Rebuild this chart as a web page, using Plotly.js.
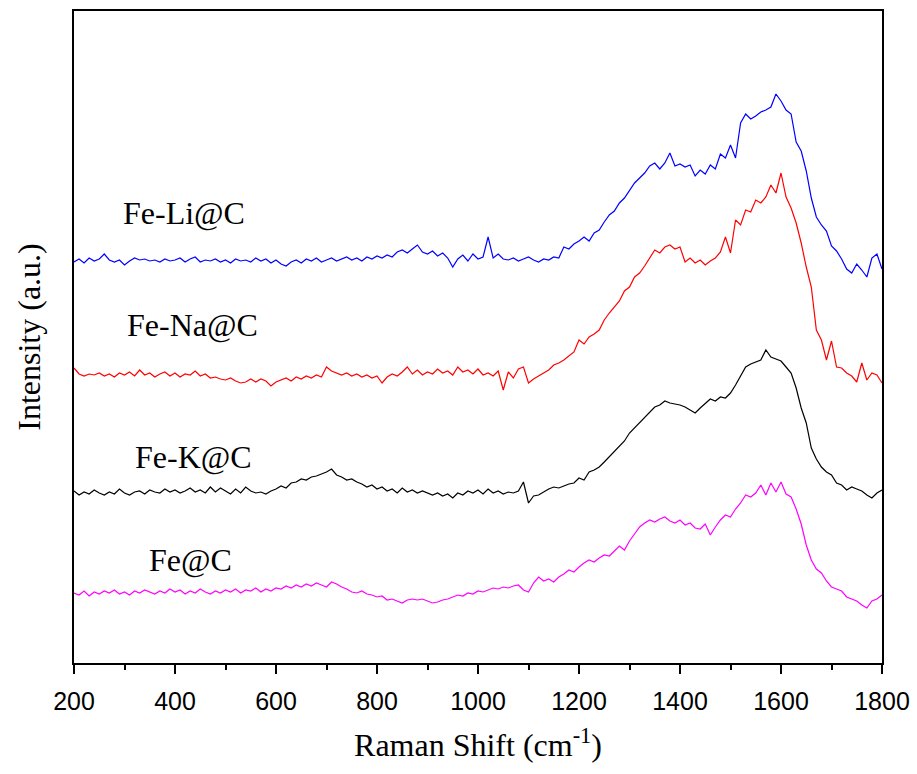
<!DOCTYPE html>
<html>
<head>
<meta charset="utf-8">
<script src="https://cdn.plot.ly/plotly-3.0.1.min.js"></script>
<style>body{margin:0;padding:0;background:#fff;}#chart{width:917px;height:774px;}</style>
</head>
<body>
<div id="chart"></div>
<script>
// Raman shift (cm^-1), 200..1800 step 10
const shiftStart = 200, shiftStep = 10;
const seriesNames = ["Fe-Li@C", "Fe-Na@C", "Fe-K@C", "Fe@C"];
const seriesColors = ["#0000ff", "#ff0000", "#000000", "#ff00ff"];
const tickVals = [200, 400, 600, 800, 1000, 1200, 1400, 1600, 1800];

// Intensities (a.u., stacked offsets as in the figure)
const feLi = [401,404,400,405,402,404,409,403,401,403,398,402,405,403,404,402,403,401,404,402,
403,405,401,404,406,401,403,402,404,401,403,400,404,402,403,401,405,402,404,400,
403,399,397,401,403,400,404,402,405,401,403,405,402,404,406,403,405,402,406,404,
407,405,408,406,411,413,410,414,418,411,409,412,407,410,405,396,404,408,402,409,
404,406,426,405,409,404,403,405,402,404,406,403,401,404,403,406,405,416,414,419,
422,426,422,430,433,441,448,452,460,465,472,480,485,490,497,500,494,500,510,497,
499,496,498,487,493,489,498,494,509,505,518,505,540,549,544,547,551,553,556,569,
562,553,549,521,512,492,465,446,438,432,417,412,404,394,390,399,393,386,405,409,394];
const feNa = [295,289,287,289,288,290,287,289,286,290,288,291,287,293,288,290,286,289,291,287,
290,286,289,288,292,287,289,285,286,284,283,285,282,280,281,284,281,284,282,277,
281,283,285,282,286,284,287,285,288,286,296,292,290,288,290,287,289,286,288,285,
287,280,286,289,287,291,296,289,293,288,291,289,294,290,292,288,296,291,293,289,
294,288,290,287,292,273,291,285,294,296,280,284,287,290,293,298,300,303,307,311,
323,319,326,329,333,343,350,356,362,372,376,386,390,397,405,413,410,416,418,414,
416,401,405,400,403,398,402,405,411,426,410,443,438,453,451,463,460,466,478,470,
490,466,455,440,420,396,376,333,323,303,322,296,295,290,287,281,300,283,290,288,280];
const feK = [172,168,171,169,173,170,168,171,169,174,170,168,171,172,169,173,171,170,174,171,
173,170,172,175,171,173,170,176,171,175,172,169,174,170,176,172,170,171,169,172,
174,177,175,180,181,184,183,186,187,189,191,194,188,186,183,184,181,179,176,178,
174,176,172,174,170,175,171,173,170,172,170,168,170,167,169,165,170,168,172,170,
173,169,174,170,172,169,171,170,172,181,160,167,168,171,174,176,175,177,179,180,
185,183,191,193,196,201,206,212,216,222,230,235,241,246,251,256,258,262,260,259,
258,256,253,250,255,260,264,262,266,265,270,278,287,296,299,301,303,313,306,304,
302,296,290,275,255,240,215,204,196,191,188,180,178,173,176,174,172,168,165,170,173];
const fe = [70,68,72,67,71,69,72,70,73,69,71,68,72,70,73,71,69,72,70,74,
71,73,69,72,70,74,71,69,72,70,73,71,74,70,73,72,75,71,74,72,
75,74,77,75,78,76,79,77,80,78,76,81,79,76,74,71,70,72,69,68,
66,67,63,64,62,60,63,64,63,64,62,60,61,63,64,66,68,67,70,69,
72,71,73,75,74,76,75,77,78,73,71,80,86,82,84,81,86,89,93,91,
96,100,103,101,105,108,107,112,117,113,122,129,136,140,143,141,144,146,142,140,
143,138,140,135,134,139,128,136,143,148,146,154,160,168,166,170,178,168,180,171,
181,169,166,154,139,118,103,94,90,82,76,74,72,66,64,62,58,55,62,64,68];

const allSeries = [feLi, feNa, feK, fe];
// label anchor positions (data coords)
const labelX = [418, 434, 436, 430];
const labelY = [450, 338, 206, 103];

const traces = allSeries.map((vals, i) => ({
  x: vals.map((_, j) => shiftStart + j * shiftStep),
  y: vals,
  type: 'scatter',
  mode: 'lines',
  name: seriesNames[i],
  line: {color: seriesColors[i], width: 1.2},
  showlegend: false
}));

const serif = 'Liberation Serif, Times New Roman, serif';
const annotations = seriesNames.map((n, i) => ({
  x: labelX[i], y: labelY[i], xref: 'x', yref: 'y',
  text: n, showarrow: false,
  font: {family: serif, size: 32, color: '#000'}
}));

const layout = {
  width: 917, height: 774,
  margin: {l: 74, r: 35, t: 11, b: 111},
  paper_bgcolor: '#fff', plot_bgcolor: '#fff',
  xaxis: {
    range: [200, 1800],
    tickvals: tickVals,
    ticktext: tickVals.map(String),
    ticks: 'outside', ticklen: 9, tickwidth: 2, tickcolor: '#000',
    ticklabelstandoff: 6,
    minor: {ticks: 'outside', ticklen: 5, tickwidth: 2, tickcolor: '#000', dtick: 100, tick0: 200, showgrid: false},
    showline: true, linewidth: 2, linecolor: '#000', mirror: true,
    showgrid: false, zeroline: false,
    tickfont: {family: 'Liberation Sans, Arial, sans-serif', size: 25, color: '#000'},
    title: {text: 'Raman Shift (cm<sup>-1</sup>)', font: {family: serif, size: 32, color: '#000'}, standoff: 20}
  },
  yaxis: {
    range: [0, 652],
    showticklabels: false, ticks: '',
    showline: true, linewidth: 2, linecolor: '#000', mirror: true,
    showgrid: false, zeroline: false,
    title: {text: 'Intensity (a.u.)', font: {family: serif, size: 32, color: '#000'}, standoff: 22}
  },
  annotations: annotations
};

Plotly.newPlot('chart', traces, layout, {staticPlot: true, displayModeBar: false});
</script>
</body>
</html>
